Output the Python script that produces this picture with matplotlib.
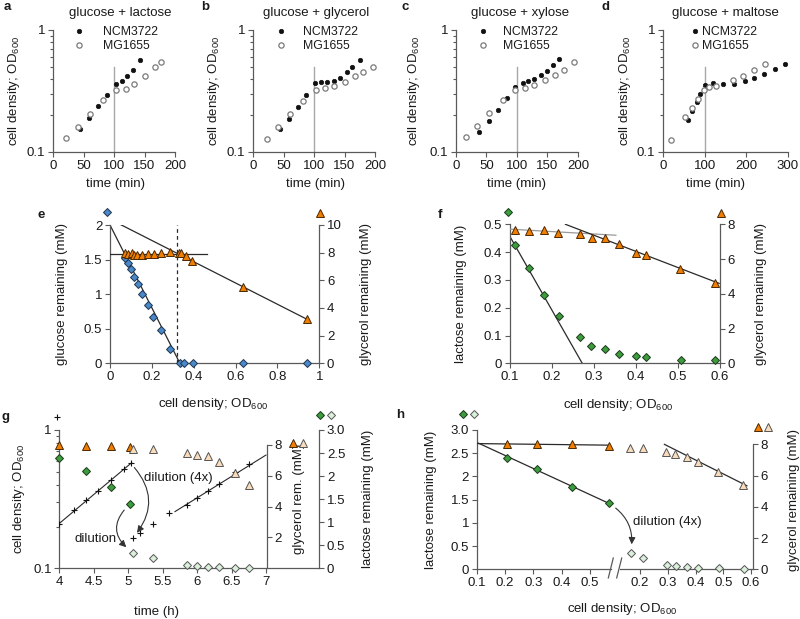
import matplotlib
matplotlib.use('Agg')
import matplotlib.pyplot as plt
from matplotlib.ticker import NullFormatter, LogLocator

plt.rcParams['font.family'] = ['Liberation Sans', 'DejaVu Sans']
plt.rcParams['mathtext.default'] = 'regular'
plt.rcParams['text.color'] = '#1a1a1a'
plt.rcParams['axes.labelcolor'] = '#1a1a1a'

# ---------------- data ----------------
switch_t = 100
switch_top = 0.5

a_ncm_t = [45, 59.5, 74, 88, 103, 113.5, 121.5, 131, 142]
a_ncm_od = [0.153, 0.19, 0.237, 0.295, 0.36, 0.381, 0.418, 0.469, 0.563]
a_mg_t = [21.6, 40.5, 60.5, 82, 102.7, 119, 133.5, 151, 166.5, 177]
a_mg_od = [0.13, 0.16, 0.204, 0.266, 0.321, 0.33, 0.36, 0.42, 0.50, 0.546]

b_ncm_t = [43.8, 58.4, 73, 87, 101.6, 110.8, 120.5, 132.4, 142, 154, 163, 174.6]
b_ncm_od = [0.153, 0.188, 0.234, 0.292, 0.365, 0.376, 0.376, 0.381, 0.401, 0.449, 0.497, 0.563]
b_mg_t = [22.7, 41.6, 61, 82.7, 102.7, 117.8, 133.5, 151, 166.5, 181, 197.3]
b_mg_od = [0.129, 0.160, 0.204, 0.262, 0.325, 0.332, 0.347, 0.376, 0.416, 0.455, 0.500]

c_ncm_t = [38.3, 53.6, 68.9, 83, 97.3, 109.3, 117.5, 128.4, 139.3, 149.2, 159.6, 169.4]
c_ncm_od = [0.145, 0.178, 0.220, 0.276, 0.338, 0.365, 0.379, 0.396, 0.424, 0.463, 0.512, 0.578]
c_mg_t = [15.8, 35, 54.6, 77.6, 96.7, 113, 128.4, 145.9, 162.3, 177, 193.4]
c_mg_od = [0.132, 0.164, 0.208, 0.266, 0.321, 0.334, 0.353, 0.386, 0.427, 0.469, 0.542]

d_ncm_t = [58.9, 70, 81.1, 89.9, 101, 119.3, 144.8, 171, 195.7, 218.8, 242.6, 268, 292.8]
d_ncm_od = [0.182, 0.216, 0.256, 0.300, 0.355, 0.371, 0.362, 0.362, 0.379, 0.401, 0.438, 0.475, 0.529]
d_mg_t = [19.1, 53.3, 69.2, 83.5, 98.6, 111.4, 126.5, 168.7, 192.5, 218.8, 244.2]
d_mg_od = [0.126, 0.194, 0.230, 0.271, 0.321, 0.338, 0.349, 0.388, 0.421, 0.466, 0.526]

top_titles = ['glucose + lactose', 'glucose + glycerol', 'glucose + xylose', 'glucose + maltose']
strain_labels = ['NCM3722', 'MG1655']

# panel e
e_glc_od = [0.072, 0.084, 0.100, 0.115, 0.132, 0.155, 0.180, 0.207, 0.244, 0.287, 0.334, 0.355, 0.395, 0.634, 0.939]
e_glc = [1.518, 1.446, 1.359, 1.253, 1.147, 1.002, 0.843, 0.675, 0.482, 0.207, 0, 0, 0, 0, 0]
e_gly_od = [0.072, 0.088, 0.104, 0.116, 0.131, 0.151, 0.180, 0.210, 0.244, 0.287, 0.330, 0.339, 0.361, 0.390, 0.634, 0.939]
e_gly = [8.0, 7.9, 7.95, 7.83, 7.83, 7.83, 7.88, 7.9, 7.95, 8.02, 8.0, 7.95, 7.78, 7.42, 5.54, 3.2]
e_glc_fit_x = [0.0, 0.334]
e_glc_fit_y = [2.0, 0.0]
e_gly_flat_x = [0.0, 0.462]
e_gly_flat_y = [7.88, 7.88]
e_gly_fit_x = [0.048, 0.939]
e_gly_fit_y = [10.05, 3.2]
e_switch_od = 0.32

# panel f
f_lac_od = [0.113, 0.145, 0.180, 0.216, 0.267, 0.294, 0.326, 0.360, 0.399, 0.425, 0.506, 0.589]
f_lac = [0.4245, 0.3417, 0.2458, 0.1703, 0.0935, 0.0635, 0.0504, 0.0324, 0.0264, 0.0216, 0.012, 0.012]
f_gly_od = [0.113, 0.145, 0.180, 0.215, 0.267, 0.296, 0.326, 0.360, 0.399, 0.425, 0.505, 0.589]
f_gly = [7.68, 7.62, 7.66, 7.49, 7.43, 7.24, 7.2, 6.85, 6.33, 6.22, 5.41, 4.61]
f_lac_fit_x = [0.1, 0.272]
f_lac_fit_y = [0.4556, 0.0]
f_gly_flat_x = [0.1, 0.352]
f_gly_flat_y = [7.72, 7.37]
f_gly_fit_x = [0.232, 0.598]
f_gly_fit_y = [8.0, 4.6]

# panel g
g_od_t = [4.0, 4.213, 4.387, 4.556, 4.745, 4.939, 5.035, 5.065, 5.171, 5.364, 5.597,
          5.848, 6.003, 6.163, 6.318, 6.55, 6.758]
g_od = [0.209, 0.264, 0.312, 0.364, 0.435, 0.523, 0.574, 0.165, 0.179, 0.209, 0.25,
        0.287, 0.321, 0.364, 0.407, 0.5, 0.565]
g_fit1_t = [4.0, 5.05]
g_fit1_od = [0.211, 0.58]
g_fit2_t = [5.679, 7.0]
g_fit2_od = [0.257, 0.659]
g_lac_t1 = [4.0, 4.387, 4.75, 5.026]
g_lac1 = [2.386, 2.118, 1.757, 1.395]
g_lac_t2 = [5.065, 5.364, 5.858, 6.003, 6.163, 6.318, 6.55, 6.758]
g_lac2 = [0.34, 0.231, 0.072, 0.051, 0.036, 0.022, 0.014, 0.007]
g_gly_t1 = [4.0, 4.387, 4.75, 5.026]
g_gly1 = [8.0, 7.96, 7.94, 7.85]
g_gly_t2 = [5.075, 5.364, 5.848, 6.003, 6.163, 6.318, 6.55, 6.758]
g_gly2 = [7.74, 7.72, 7.50, 7.37, 7.29, 6.88, 6.16, 5.41]

# panel h
h_od1 = [0.208, 0.314, 0.437, 0.567]
h_lac1 = [2.404, 2.153, 1.78, 1.421]
h_gly1 = [8.0, 8.0, 8.0, 7.89]
h_lac_od2 = [0.166, 0.21, 0.299, 0.329, 0.371, 0.409, 0.483, 0.573]
h_lac2 = [0.36, 0.245, 0.10, 0.07, 0.05, 0.03, 0.025, 0.015]
h_gly_od2 = [0.164, 0.212, 0.294, 0.327, 0.368, 0.41, 0.482, 0.57]
h_gly2 = [7.74, 7.74, 7.49, 7.36, 7.21, 6.85, 6.21, 5.40]
h_lac_fit_x = [0.1, 0.567]
h_lac_fit_y = [2.734, 1.421]
h_gly_flat_x = [0.1, 0.567]
h_gly_flat_y = [8.05, 7.95]
h_gly_fit_x = [0.288, 0.585]
h_gly_fit_y = [8.0, 5.35]

# ---------------- style ----------------
W, H = 800, 619
SP = '#5a5a5a'
LC = '#2a2a2a'
FS = 9.5
TFS = 9.5
fig = plt.figure(figsize=(8, 6.19), dpi=100)


def rect(l, t, r, b):
    return [l / W, 1 - b / H, (r - l) / W, (b - t) / H]


def style(ax, left=True, bottom=True, right=False):
    for s in ['top', 'right', 'left', 'bottom']:
        ax.spines[s].set_visible(False)
    for s, v in [('left', left), ('bottom', bottom), ('right', right)]:
        if v:
            ax.spines[s].set_visible(True)
            ax.spines[s].set_color(SP)
            ax.spines[s].set_linewidth(0.9)
    ax.tick_params(which='both', direction='out', color=SP, width=0.8, labelsize=TFS,
                   labelcolor='#1a1a1a', pad=2)
    ax.tick_params(which='major', length=3.5)
    ax.tick_params(which='minor', length=2)
    ax.patch.set_visible(False)


def blank_twin(ax):
    for s in ['top', 'right', 'left', 'bottom']:
        ax.spines[s].set_visible(False)
    ax.set_yticks([])
    ax.patch.set_visible(False)


mk_blue = dict(marker='D', ls='none', ms=4.3, mfc='#4a88c7', mec='#1f3550', mew=0.7)
mk_orange = dict(marker='^', ls='none', ms=6.3, mfc='#f07e00', mec='#4a2800', mew=0.7)
mk_green = dict(marker='D', ls='none', ms=4.3, mfc='#3d9c3d', mec='#1a3a1a', mew=0.7)
mk_lgreen = dict(marker='D', ls='none', ms=4.3, mfc='#dbf0db', mec='#555555', mew=0.7)
mk_peach = dict(marker='^', ls='none', ms=6.3, mfc='#f9dcbc', mec='#555555', mew=0.7)
mk_plus = dict(marker='+', ls='none', ms=4, mec='#111111', mew=0.8)
od_label = 'cell density; OD$_{600}$'

# ---------------- top row ----------------
top_specs = [
    dict(px=(53, 30, 175, 152), ncm=(a_ncm_t, a_ncm_od), mg=(a_mg_t, a_mg_od), xmax=200,
         xt=[0, 50, 100, 150, 200], tx=0.55, xl=0.516, lx=0.175, lp=1.55, yl=-0.254, letter='a', lpx=(4, 7)),
    dict(px=(253, 30, 375, 152), ncm=(b_ncm_t, b_ncm_od), mg=(b_mg_t, b_mg_od), xmax=200,
         xt=[0, 50, 100, 150, 200], tx=0.52, xl=0.515, lx=0.189, lp=1.38, yl=-0.254, letter='b', lpx=(201, 7)),
    dict(px=(456, 30, 578, 152), ncm=(c_ncm_t, c_ncm_od), mg=(c_mg_t, c_mg_od), xmax=200,
         xt=[0, 50, 100, 150, 200], tx=0.525, xl=0.497, lx=0.185, lp=1.16, yl=-0.279, letter='c', lpx=(402, 7)),
    dict(px=(663, 30, 788, 152), ncm=(d_ncm_t, d_ncm_od), mg=(d_mg_t, d_mg_od), xmax=300,
         xt=[0, 100, 200, 300], tx=0.496, xl=0.42, lx=0.213, lp=0.23, yl=-0.24, letter='d', lpx=(602, 7)),
]

for spec, title in zip(top_specs, top_titles):
    ax = fig.add_axes(rect(*spec['px']))
    style(ax)
    ax.set_yscale('log')
    ax.set_xlim(0, spec['xmax'])
    ax.set_ylim(0.1, 1)
    ax.plot([switch_t, switch_t], [0.1, switch_top], color='#a8a8a8', lw=1.0, zorder=1)
    ax.plot(*spec['ncm'], 'o', ms=3.2, mfc='#111111', mec='#111111', mew=0.5,
            label=strain_labels[0], zorder=3, clip_on=False)
    ax.plot(*spec['mg'], 'o', ms=3.8, mfc='white', mec='#7a7a7a', mew=0.9,
            label=strain_labels[1], zorder=3, clip_on=False)
    ax.set_xticks(spec['xt'])
    ax.set_xticklabels([str(v) for v in spec['xt']])
    ax.set_yticks([0.1, 1])
    ax.set_yticklabels(['0.1', '1'])
    ax.yaxis.set_minor_locator(LogLocator(base=10, subs=range(2, 10)))
    ax.yaxis.set_minor_formatter(NullFormatter())
    ax.set_xlabel('time (min)', fontsize=FS)
    ax.xaxis.set_label_coords(spec['xl'], -0.215)
    ax.xaxis.label.set_va('top')
    ax.set_ylabel(od_label, fontsize=FS)
    ax.yaxis.set_label_coords(spec['yl'], 0.5)
    ax.text(spec['tx'], 1.142, title, transform=ax.transAxes, ha='center', va='center', fontsize=FS)
    ax.legend(loc='upper left', bbox_to_anchor=(spec['lx'], 1.03), frameon=False, fontsize=8.8,
              handlelength=0.8, handletextpad=spec['lp'], borderpad=0, borderaxespad=0,
              labelspacing=0.15)
    fig.text(spec['lpx'][0] / W, 1 - spec['lpx'][1] / H, spec['letter'], fontweight='bold',
             fontsize=9.5, ha='left', va='center')

# ---------------- panel e ----------------
ax_e = fig.add_axes(rect(110, 225, 319.3, 363.3))
style(ax_e)
ax_e.set_xlim(0, 1)
ax_e.set_ylim(0, 2)
ax_e2 = ax_e.twinx()
style(ax_e2, left=False, bottom=False, right=True)
ax_e2.set_ylim(0, 10)
ax_e.plot(e_glc_fit_x, e_glc_fit_y, color=LC, lw=0.9, zorder=2)
ax_e.plot([e_switch_od, e_switch_od], [0, 2], color=LC, lw=0.9, ls=(0, (3, 2.5)), zorder=2)
ax_e2.plot(e_gly_flat_x, e_gly_flat_y, color=LC, lw=0.9, zorder=2)
ax_e2.plot(e_gly_fit_x, e_gly_fit_y, color=LC, lw=0.9, zorder=2)
ax_e.plot(e_glc_od, e_glc, clip_on=False, zorder=4, **mk_blue)
ax_e2.plot(e_gly_od, e_gly, clip_on=False, zorder=4, **mk_orange)
ax_e.plot([-0.013], [1.096], transform=ax_e.transAxes, clip_on=False, **mk_blue)
ax_e2.plot([1.003], [1.085], transform=ax_e2.transAxes, clip_on=False, **mk_orange)
ax_e.set_xticks([0, 0.2, 0.4, 0.6, 0.8, 1])
ax_e.set_xticklabels(['0', '0.2', '0.4', '0.6', '0.8', '1'])
ax_e.set_yticks([0, 0.5, 1, 1.5, 2])
ax_e.set_yticklabels(['0', '0.5', '1', '1.5', '2'])
ax_e2.set_yticks([0, 2, 4, 6, 8, 10])
ax_e2.set_yticklabels(['0', '2', '4', '6', '8', '10'])
ax_e.set_ylabel('glucose remaining (mM)', fontsize=FS)
ax_e.yaxis.set_label_coords(-0.2, 0.5)
ax_e2.set_ylabel('glycerol remaining (mM)', fontsize=FS)
ax_e2.yaxis.set_label_coords(1.194, 0.5)
ax_e.set_xlabel(od_label, fontsize=FS)
ax_e.xaxis.set_label_coords(0.492, -0.236)
ax_e.xaxis.label.set_va('top')
fig.text(37 / W, 1 - 215 / H, 'e', fontweight='bold', fontsize=9.5, ha='left', va='center')

# ---------------- panel f ----------------
ax_f = fig.add_axes(rect(510, 224.3, 720, 363.3))
style(ax_f)
ax_f.set_xlim(0.1, 0.6)
ax_f.set_ylim(0, 0.5)
ax_f2 = ax_f.twinx()
style(ax_f2, left=False, bottom=False, right=True)
ax_f2.set_ylim(0, 8)
ax_f.plot(f_lac_fit_x, f_lac_fit_y, color=LC, lw=0.9, zorder=2)
ax_f2.plot(f_gly_flat_x, f_gly_flat_y, color='#9a9a9a', lw=0.9, zorder=2)
ax_f2.plot(f_gly_fit_x, f_gly_fit_y, color=LC, lw=0.9, zorder=2)
ax_f.plot(f_lac_od, f_lac, clip_on=False, zorder=4, **mk_green)
ax_f2.plot(f_gly_od, f_gly, clip_on=False, zorder=4, **mk_orange)
ax_f.plot([-0.008], [1.091], transform=ax_f.transAxes, clip_on=False, **mk_green)
ax_f2.plot([1.003], [1.083], transform=ax_f2.transAxes, clip_on=False, **mk_orange)
ax_f.set_xticks([0.1, 0.2, 0.3, 0.4, 0.5, 0.6])
ax_f.set_xticklabels(['0.1', '0.2', '0.3', '0.4', '0.5', '0.6'])
ax_f.set_yticks([0, 0.1, 0.2, 0.3, 0.4, 0.5])
ax_f.set_yticklabels(['0', '0.1', '0.2', '0.3', '0.4', '0.5'])
ax_f2.set_yticks([0, 2, 4, 6, 8])
ax_f2.set_yticklabels(['0', '2', '4', '6', '8'])
ax_f.set_ylabel('lactose remaining (mM)', fontsize=FS)
ax_f.yaxis.set_label_coords(-0.205, 0.5)
ax_f2.set_ylabel('glycerol remaining (mM)', fontsize=FS)
ax_f2.yaxis.set_label_coords(1.167, 0.5)
ax_f.set_xlabel(od_label, fontsize=FS)
ax_f.xaxis.set_label_coords(0.514, -0.239)
ax_f.xaxis.label.set_va('top')
fig.text(438 / W, 1 - 215 / H, 'f', fontweight='bold', fontsize=9.5, ha='left', va='center')

# ---------------- panel g ----------------
ax_g = fig.add_axes(rect(59.3, 430, 319.3, 568.3))
style(ax_g)
ax_g.set_yscale('log')
ax_g.set_xlim(4, 7.774)
ax_g.set_ylim(0.1, 1)
ax_gg = ax_g.twinx()
style(ax_gg, left=False, bottom=False, right=True)
ax_gg.spines['right'].set_position(('axes', 0.7977))
ax_gg.spines['right'].set_bounds(0, 8)
ax_gg.set_ylim(0, 8.97)
ax_gl = ax_g.twinx()
style(ax_gl, left=False, bottom=False, right=True)
ax_gl.set_ylim(0, 3)

ax_g.plot(g_fit1_t, g_fit1_od, color=LC, lw=0.8, zorder=2)
ax_g.plot(g_fit2_t, g_fit2_od, color=LC, lw=0.8, zorder=2)
ax_g.plot(g_od_t, g_od, zorder=3, **mk_plus)
ax_gg.plot(g_gly_t1, g_gly1, clip_on=False, zorder=4, **mk_orange)
ax_gg.plot(g_gly_t2, g_gly2, clip_on=False, zorder=4, **mk_peach)
ax_gl.plot(g_lac_t1, g_lac1, clip_on=False, zorder=4, **mk_green)
ax_gl.plot(g_lac_t2, g_lac2, clip_on=False, zorder=4, **mk_lgreen)
# keys
ax_g.plot([-0.01], [1.096], transform=ax_g.transAxes, clip_on=False, **mk_plus)
ax_gl.plot([1.003], [1.108], transform=ax_gl.transAxes, clip_on=False, **mk_green)
ax_gl.plot([1.045], [1.108], transform=ax_gl.transAxes, clip_on=False, **mk_lgreen)
ax_gl.plot([0.898], [0.904], transform=ax_gl.transAxes, clip_on=False, **mk_orange)
ax_gl.plot([0.936], [0.904], transform=ax_gl.transAxes, clip_on=False, **mk_peach)

ax_g.set_xticks([4, 4.5, 5, 5.5, 6, 6.5, 7])
ax_g.set_xticklabels(['4', '4.5', '5', '5.5', '6', '6.5', '7'])
ax_g.set_yticks([0.1, 1])
ax_g.set_yticklabels(['0.1', '1'])
ax_g.yaxis.set_minor_locator(LogLocator(base=10, subs=range(2, 10)))
ax_g.yaxis.set_minor_formatter(NullFormatter())
ax_gg.set_yticks([2, 4, 6, 8])
ax_gg.set_yticklabels(['2', '4', '6', '8'])
ax_gl.set_yticks([0, 0.5, 1, 1.5, 2, 2.5, 3])
ax_gl.set_yticklabels(['0', '0.5', '1', '1.5', '2', '2.5', '3.0'])
ax_g.set_ylabel(od_label, fontsize=FS)
ax_g.yaxis.set_label_coords(-0.124, 0.5)
ax_gg.set_ylabel('glycerol rem. (mM)', fontsize=FS)
ax_gg.yaxis.set_label_coords(0.899, 0.5)
ax_gl.set_ylabel('lactose remaining (mM)', fontsize=FS)
ax_gl.yaxis.set_label_coords(1.164, 0.5)
ax_g.set_xlabel('time (h)', fontsize=FS)
ax_g.xaxis.set_label_coords(0.375, -0.27)
ax_g.xaxis.label.set_va('top')

arrow_kw = dict(arrowstyle='-|>,head_length=0.4,head_width=0.2', color='#333333', lw=0.8)
ax_g.annotate('', xy=(g_od_t[7], g_od[7]), xytext=(g_od_t[6], g_od[6]),
              arrowprops=dict(connectionstyle='arc3,rad=-0.45', shrinkA=4, shrinkB=5, **arrow_kw))
ax_g.text(0.4565, 0.653, 'dilution (4x)', transform=ax_g.transAxes, ha='center', va='center', fontsize=FS)
ax_gl.annotate('', xy=(g_lac_t2[0], g_lac2[0]), xytext=(g_lac_t1[-1], g_lac1[-1]),
               arrowprops=dict(connectionstyle='arc3,rad=0.6', shrinkA=6, shrinkB=6, **arrow_kw))
ax_g.text(0.141, 0.212, 'dilution', transform=ax_g.transAxes, ha='center', va='center', fontsize=FS)
fig.text(2 / W, 1 - 417 / H, 'g', fontweight='bold', fontsize=9.5, ha='left', va='center')

# ---------------- panel h ----------------
h1 = fig.add_axes(rect(476.7, 430, 611, 569.3))
style(h1)
h1.set_xlim(0.1, 0.5746)
h1.set_ylim(0, 3)
h1g = h1.twinx()
blank_twin(h1g)
h1g.set_ylim(0, 8.92)
h2 = fig.add_axes(rect(620, 430, 752.7, 569.3))
style(h2, left=False)
h2.set_xlim(0.128, 0.606)
h2.set_ylim(0, 3)
h2.set_yticks([])
h2g = h2.twinx()
style(h2g, left=False, bottom=False, right=True)
h2g.spines['right'].set_bounds(0, 8)
h2g.set_ylim(0, 8.92)

h1.plot(h_lac_fit_x, h_lac_fit_y, color=LC, lw=0.9, zorder=2)
h1g.plot(h_gly_flat_x, h_gly_flat_y, color=LC, lw=0.9, zorder=2)
h2g.plot(h_gly_fit_x, h_gly_fit_y, color=LC, lw=0.9, zorder=2)
h1.plot(h_od1, h_lac1, clip_on=False, zorder=4, **mk_green)
h1g.plot(h_od1, h_gly1, clip_on=False, zorder=4, **mk_orange)
h2.plot(h_lac_od2, h_lac2, clip_on=False, zorder=4, **mk_lgreen)
h2g.plot(h_gly_od2, h_gly2, clip_on=False, zorder=4, **mk_peach)
h1.plot([-0.104], [1.115], transform=h1.transAxes, clip_on=False, **mk_green)
h1.plot([-0.02], [1.115], transform=h1.transAxes, clip_on=False, **mk_lgreen)
h2g.plot([1.042], [1.024], transform=h2g.transAxes, clip_on=False, **mk_orange)
h2g.plot([1.118], [1.024], transform=h2g.transAxes, clip_on=False, **mk_peach)

h1.set_xticks([0.1, 0.2, 0.3, 0.4, 0.5])
h1.set_xticklabels(['0.1', '0.2', '0.3', '0.4', '0.5'])
h2.set_xticks([0.2, 0.3, 0.4, 0.5, 0.6])
h2.set_xticklabels(['0.2', '0.3', '0.4', '0.5', '0.6'])
h1.set_yticks([0, 0.5, 1, 1.5, 2, 2.5, 3])
h1.set_yticklabels(['0', '0.5', '1', '1.5', '2', '2.5', '3.0'])
h2g.set_yticks([0, 2, 4, 6, 8])
h2g.set_yticklabels(['0', '2', '4', '6', '8'])
h1.set_ylabel('lactose remaining (mM)', fontsize=FS)
h1.yaxis.set_label_coords(-0.292, 0.5)
h2g.set_ylabel('glycerol remaining (mM)', fontsize=FS)
h2g.yaxis.set_label_coords(1.266, 0.5)
fig.text(622 / W, 2 / H, od_label, ha='center', va='bottom', fontsize=FS)

# axis break marks
h1.plot([0.98, 1.017], [-0.062, 0.081], transform=h1.transAxes, clip_on=False, color=SP, lw=0.9)
h2.plot([-0.025, 0.013], [-0.062, 0.081], transform=h2.transAxes, clip_on=False, color=SP, lw=0.9)

h2.annotate('', xy=(h_lac_od2[0], h_lac2[0]), xycoords='data',
            xytext=(h_od1[-1], h_lac1[-1]), textcoords=h1.transData,
            arrowprops=dict(connectionstyle='arc3,rad=-0.35', shrinkA=6, shrinkB=6, **arrow_kw))
h2.text(0.354, 0.34, 'dilution (4x)', transform=h2.transAxes, ha='center', va='center', fontsize=FS)
fig.text(396 / W, 1 - 415 / H, 'h', fontweight='bold', fontsize=9.5, ha='left', va='center')

fig.savefig('out.png', dpi=100)
